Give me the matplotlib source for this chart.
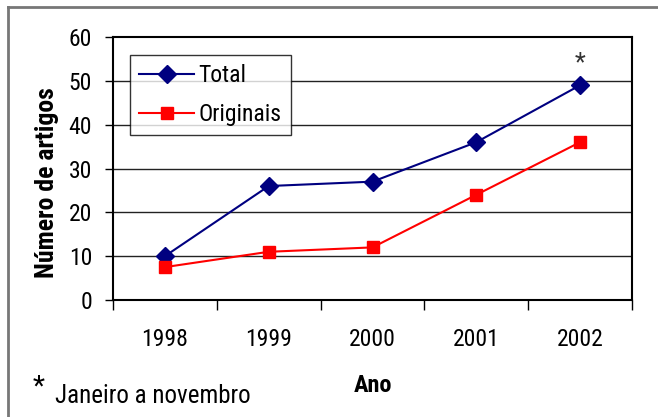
import matplotlib
matplotlib.use("Agg")
import matplotlib.pyplot as plt
from matplotlib.lines import Line2D

plt.rcParams['font.family'] = ['Roboto Condensed', 'DejaVu Sans']

anos = ['1998', '1999', '2000', '2001', '2002']
total = [10, 26, 27, 36, 49]
originais = [7.5, 11, 12, 24, 36]
yticks = [0, 10, 20, 30, 40, 50, 60]

W, H = 658, 417
fig = plt.figure(figsize=(W / 100, H / 100), dpi=100)
ax = fig.add_axes([113 / W, 1 - 300 / H, (632 - 113) / W, (300 - 37) / H])

x = list(range(len(anos)))
ax.plot(x, total, color='#000080', marker='D', markersize=9, linewidth=1.5,
        label='Total', zorder=3)
ax.plot(x, originais, color='#ff0000', marker='s', markersize=9, linewidth=1.5,
        label='Originais', zorder=3)

ax.set_xlim(-0.5, len(anos) - 0.5)
ax.set_ylim(0, 60)
ax.set_yticks(yticks)
ax.set_yticklabels([str(v) for v in yticks], fontsize=17)
ax.set_xticks(x)
ax.set_xticklabels(anos, fontsize=17)
ax.set_xticks([i - 0.5 for i in range(len(anos) + 1)], minor=True)
ax.tick_params(axis='x', which='major', length=0, pad=20)
ax.tick_params(axis='x', which='minor', length=7, width=1, direction='out')
ax.tick_params(axis='y', which='major', length=6, width=1, direction='out', pad=9)

for v in yticks[1:-1]:
    ax.axhline(v, color='#222222', linewidth=1, zorder=1)
for s in ax.spines.values():
    s.set_linewidth(1.5)
    s.set_color('black')

fig.text(373 / W, 1 - 385 / H, 'Ano', fontsize=17.5, fontweight='bold', ha='center', va='center')
fig.text(47 / W, 1 - 183 / H, 'Número de artigos', fontsize=18.5, fontweight='bold',
         ha='center', va='center', rotation=90)

ax.text(4, 54, '*', fontsize=18, ha='center', va='center', color='#333333')

leg = ax.legend(loc='upper left', bbox_to_anchor=((130 - 113) / 519, (300 - 55) / 263),
                borderaxespad=0, fontsize=17, frameon=True, fancybox=False,
                edgecolor='black', handlelength=2.3, handletextpad=0.2,
                labelspacing=0.65, borderpad=0.4)
leg.get_frame().set_linewidth(1)

fig.text(33 / W, 1 - 387 / H, '*', fontsize=20, ha='left', va='center')
fig.text(55 / W, 1 - 403 / H, 'Janeiro a novembro', fontsize=18, ha='left', va='baseline')

fig.add_artist(Line2D([8 / W, 8 / W], [0, 1 - 7 / H], transform=fig.transFigure,
                      color='#777777', linewidth=2))
fig.add_artist(Line2D([8 / W, 1], [1 - 7 / H, 1 - 7 / H], transform=fig.transFigure,
                      color='#777777', linewidth=2))

fig.savefig('out.png', dpi=100)
